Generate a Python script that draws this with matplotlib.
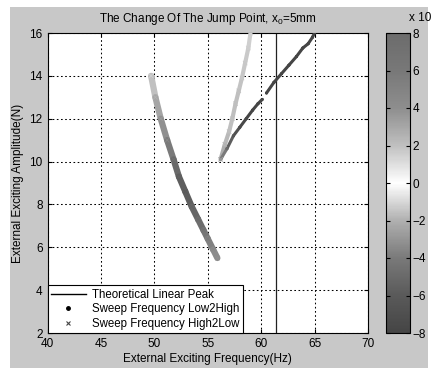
import numpy as np
import matplotlib
matplotlib.use('Agg')
import matplotlib.pyplot as plt
from matplotlib.collections import LineCollection
from matplotlib.colors import LinearSegmentedColormap, Normalize
from matplotlib.lines import Line2D
from matplotlib.patches import Rectangle

plt.rcParams['font.family'] = ['Liberation Sans', 'DejaVu Sans']
plt.rcParams['mathtext.fontset'] = 'custom'
plt.rcParams['mathtext.rm'] = 'Liberation Sans'

# sweep low -> high (dark curve, two pieces with a small gap)
low_f1 = [56.2, 56.8, 57.4, 58.0, 58.6, 59.2, 59.7, 60.1]
low_a1 = [10.1, 10.6, 11.2, 11.6, 12.0, 12.4, 12.7, 12.9]
low_v1 = [-3.0, -5.0, -6.5, -7.5, -8.0, -8.0, -8.0, -8.0]
low_f2 = [60.5, 61.2, 61.9, 62.6, 63.3, 63.9, 64.4, 64.8, 65.0]
low_a2 = [13.2, 13.7, 14.1, 14.5, 14.9, 15.3, 15.5, 15.8, 16.0]
low_v2 = [-8.0, -8.0, -8.0, -8.0, -8.0, -8.0, -8.0, -8.0, -8.0]

# sweep high -> low, upper light branch
high_f1 = [56.2, 56.6, 57.0, 57.3, 57.6, 57.9, 58.2, 58.5, 58.8, 59.0]
high_a1 = [10.1, 10.8, 11.4, 12.0, 12.7, 13.3, 13.9, 14.6, 15.3, 16.0]
high_v1 = [3.0, 2.5, 2.0, 2.0, 2.0, 2.0, 1.8, 1.8, 1.6, 1.5]

# sweep high -> low, lower-left branch
high_f2 = [49.7, 50.1, 50.6, 51.2, 51.8, 52.3, 52.9, 53.5, 54.1, 54.6, 55.0, 55.5, 55.9]
high_a2 = [14.0, 13.0, 12.0, 11.0, 10.1, 9.3, 8.6, 7.9, 7.3, 6.8, 6.4, 5.9, 5.5]
high_v2 = [-1.2, -2.0, -2.8, -3.5, -4.5, -5.5, -6.0, -5.5, -5.0, -4.5, -4.0, -3.5, -3.2]

peak_freq = 61.4
xticks = [40, 45, 50, 55, 60, 65, 70]
yticks = [2, 4, 6, 8, 10, 12, 14, 16]
cticks = [-8, -6, -4, -2, 0, 2, 4, 6, 8]

cmap = LinearSegmentedColormap.from_list('gw', [
    (0.0, '#454545'), (0.125, '#5a5a5a'), (0.25, '#7a7a7a'), (0.375, '#b0b0b0'),
    (0.5, '#ffffff'), (0.625, '#c0c0c0'), (0.75, '#8e8e8e'), (0.875, '#787878'),
    (1.0, '#6c6c6c')])
norm = Normalize(-8, 8)

fig = plt.figure(figsize=(4.38, 3.68), dpi=100, facecolor='white')
fig.patches.append(Rectangle((10/438, 0), 418/438, 361/368, transform=fig.transFigure,
                             facecolor='#c8c8c8', edgecolor='none', zorder=-1))
ax = fig.add_axes([47.5/438, 35/368, 320.5/438, 300/368])
ax.set_facecolor('white')


def band(f, a, v, lw, marker):
    pts = np.column_stack([f, a]).reshape(-1, 1, 2)
    segs = np.concatenate([pts[:-1], pts[1:]], axis=1)
    vals = (np.array(v[:-1]) + np.array(v[1:])) / 2
    lc = LineCollection(segs, cmap=cmap, norm=norm, linewidths=lw, capstyle='round', zorder=3)
    lc.set_array(vals)
    ax.add_collection(lc)
    ax.scatter(f, a, c=v, cmap=cmap, norm=norm, marker=marker, s=10, linewidths=0.6, zorder=4)


band(high_f2, high_a2, high_v2, 4.5, 'x')
band(high_f1, high_a1, high_v1, 3.0, 'x')
band(low_f1, low_a1, low_v1, 2.2, '.')
band(low_f2, low_a2, low_v2, 2.2, '.')

ax.axvline(peak_freq, color='#222222', lw=0.9, zorder=2)

ax.set_xlim(40, 70)
ax.set_ylim(2, 16)
ax.set_xticks(xticks)
ax.set_yticks(yticks)
ax.tick_params(direction='in', labelsize=8.5, length=3, top=True, right=True)
ax.grid(True, linestyle=(0, (1.6, 2.4)), color='black', lw=0.75)
for s in ax.spines.values():
    s.set_linewidth(0.8)

ax.set_title('The Change Of The Jump Point, x$_0$=5mm', fontsize=8.5, pad=8)
ax.set_xlabel('External Exciting Frequency(Hz)', fontsize=8.5, labelpad=2)
ax.set_ylabel('External Exciting Amplitude(N)', fontsize=8.5, labelpad=4)

handles = [Line2D([], [], color='black', lw=1),
           Line2D([], [], color='black', marker='.', ls='none', markersize=5),
           Line2D([], [], color='#444444', marker='x', ls='none', markersize=3.5, mew=0.8)]
labels = ['Theoretical Linear Peak', 'Sweep Frequency Low2High', 'Sweep Frequency High2Low']
leg = ax.legend(handles, labels, loc='lower left', fontsize=8.3, fancybox=False,
                framealpha=1, edgecolor='black', borderaxespad=0, handlelength=3.0,
                labelspacing=0.2, borderpad=0.3, handletextpad=0.6)
leg.get_frame().set_linewidth(0.8)
leg.set_zorder(5)

cax = fig.add_axes([386/438, 35/368, 24/438, 300/368])
sm = plt.cm.ScalarMappable(norm=norm, cmap=cmap)
cb = fig.colorbar(sm, cax=cax, ticks=cticks)
cb.ax.tick_params(direction='in', labelsize=8.5, length=3, left=True, right=True, pad=2)
cb.outline.set_linewidth(0.8)
fig.text(409/438, 1 - 18/368, 'x 10', fontsize=8.5, va='center')

fig.savefig('out.png', dpi=100, facecolor=fig.get_facecolor())
